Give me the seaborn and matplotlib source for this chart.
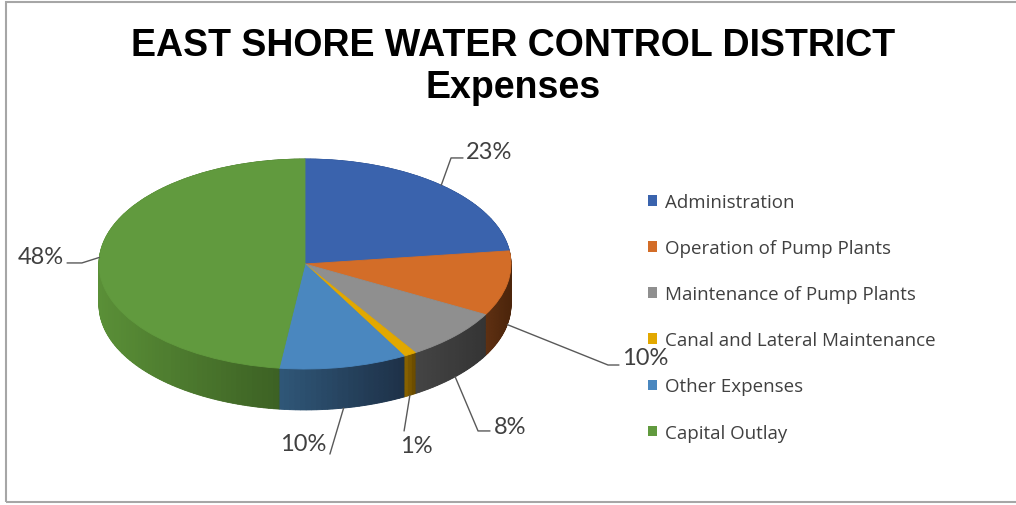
import numpy as np
import matplotlib.pyplot as plt
import seaborn as sns
from matplotlib.patches import Rectangle, Patch

categories = ['Administration', 'Operation of Pump Plants', 'Maintenance of Pump Plants',
              'Canal and Lateral Maintenance', 'Other Expenses', 'Capital Outlay']
shares = [23, 10, 8, 1, 10, 48]
pct_labels = ['23%', '10%', '8%', '1%', '10%', '48%']

top_colors = ['#3A63AD', '#D36D28', '#8F8F8F', '#E2A800', '#4A87BF', '#619A3E']
# (left, right) shade of the visible side wall
side_colors = [('#2C4C86', '#223E70'), ('#5E3012', '#4C250B'), ('#444444', '#353535'),
               ('#866100', '#6C4D00'), ('#2F5677', '#1E3249'), ('#5A8F37', '#3D6224')]

# label layout: elbow point, stub end, text point, alignment (data units, pie radius = 1)
label_layout = [
    ((0.709, 1.010), (0.767, 1.010), (0.782, 1.076), 'left'),
    ((1.471, -0.962), (1.524, -0.962), (1.539, -0.890), 'left'),
    ((0.840, -1.590), (0.898, -1.590), (0.917, -1.552), 'left'),
    ((0.481, -1.590), (0.481, -1.590), (0.539, -1.733), 'center'),
    ((0.121, -1.810), (0.121, -1.810), (0.102, -1.714), 'right'),
    ((-1.083, 0.010), (-1.155, 0.010), (-1.170, 0.067), 'right'),
]

sns.set_theme(style='white')
plt.rcParams['font.family'] = ['Lato', 'DejaVu Sans']

fig = plt.figure(figsize=(10.16, 5.06), dpi=100)
ax = fig.add_axes([0, 0, 1, 1])

depth = 0.39
total = sum(shares)

# split every slice in thin sub-wedges so the side wall gets a gradient
sub_vals, sub_cols = [], []
start = 90.0
for v, (light, dark) in zip(shares, side_colors):
    span = v / total * 360
    n = max(3, int(span / 1.5))
    ang = start - (np.arange(n) + 0.5) * span / n
    xs = np.cos(np.radians(ang))
    front = np.sin(np.radians(ang)) < 0
    if front.any() and xs[front].max() > xs[front].min():
        t = (xs - xs[front].min()) / (xs[front].max() - xs[front].min())
    else:
        t = np.full(n, 0.5)
    pal = sns.blend_palette([light, dark], 101)
    for k in range(n):
        sub_vals.append(v / n)
        sub_cols.append(pal[int(np.clip(t[k], 0, 1) * 100)])
    start -= span

for off in np.linspace(depth, 0.0, 70):
    wedges, _ = ax.pie(sub_vals, colors=sub_cols, startangle=90, counterclock=False,
                       center=(0, -off), radius=1, wedgeprops=dict(linewidth=0.6))
    for w in wedges:
        w.set_edgecolor(w.get_facecolor())

wedges, _ = ax.pie(shares, colors=top_colors, startangle=90, counterclock=False,
                   center=(0, 0), radius=1, wedgeprops=dict(linewidth=0.6))
for w in wedges:
    w.set_edgecolor(w.get_facecolor())

# percentage labels with leader lines
start = 90.0
for v, lab, (elb, stub, tp, ha) in zip(shares, pct_labels, label_layout):
    span = v / total * 360
    mid = np.radians(start - span / 2)
    ax_, ay_ = np.cos(mid), np.sin(mid)
    if ay_ < 0:
        ay_ -= depth
    ax.plot([ax_, elb[0], stub[0]], [ay_, elb[1], stub[1]], color='#595959', lw=1)
    ax.text(tp[0], tp[1], lab, ha=ha, va='center', fontsize=17, color='#404040')
    start -= span

ax.set_aspect('auto')
ax.set_xlim(-305 / 206, 711 / 206)
ax.set_ylim(-241 / 105, 265 / 105)
ax.axis('off')

handles = [Patch(facecolor=c, edgecolor='none') for c in top_colors]
leg = ax.legend(handles, categories, loc='upper left',
                bbox_to_anchor=(648 / 1016, 1 - 194 / 506), bbox_transform=fig.transFigure,
                frameon=False, handlelength=0.5, handleheight=0.5,
                handletextpad=0.4, labelspacing=1.5, borderpad=0, borderaxespad=0,
                prop=dict(family='Open Sans', size=13.5))
for txt in leg.get_texts():
    txt.set_color('#404040')

fig.text(0.505, 1 - 67 / 506, 'EAST SHORE WATER CONTROL DISTRICT\nExpenses',
         ha='center', va='center', fontsize=27, fontweight='bold',
         family=['Liberation Sans Narrow', 'Liberation Sans'], linespacing=1.2, color='black')

fig.patches.append(Rectangle((6 / 1016, 3 / 506), 1.2, 500 / 506, transform=fig.transFigure,
                             fill=False, edgecolor='#A6A6A6', lw=1.5))

fig.savefig('out.png', dpi=100)
